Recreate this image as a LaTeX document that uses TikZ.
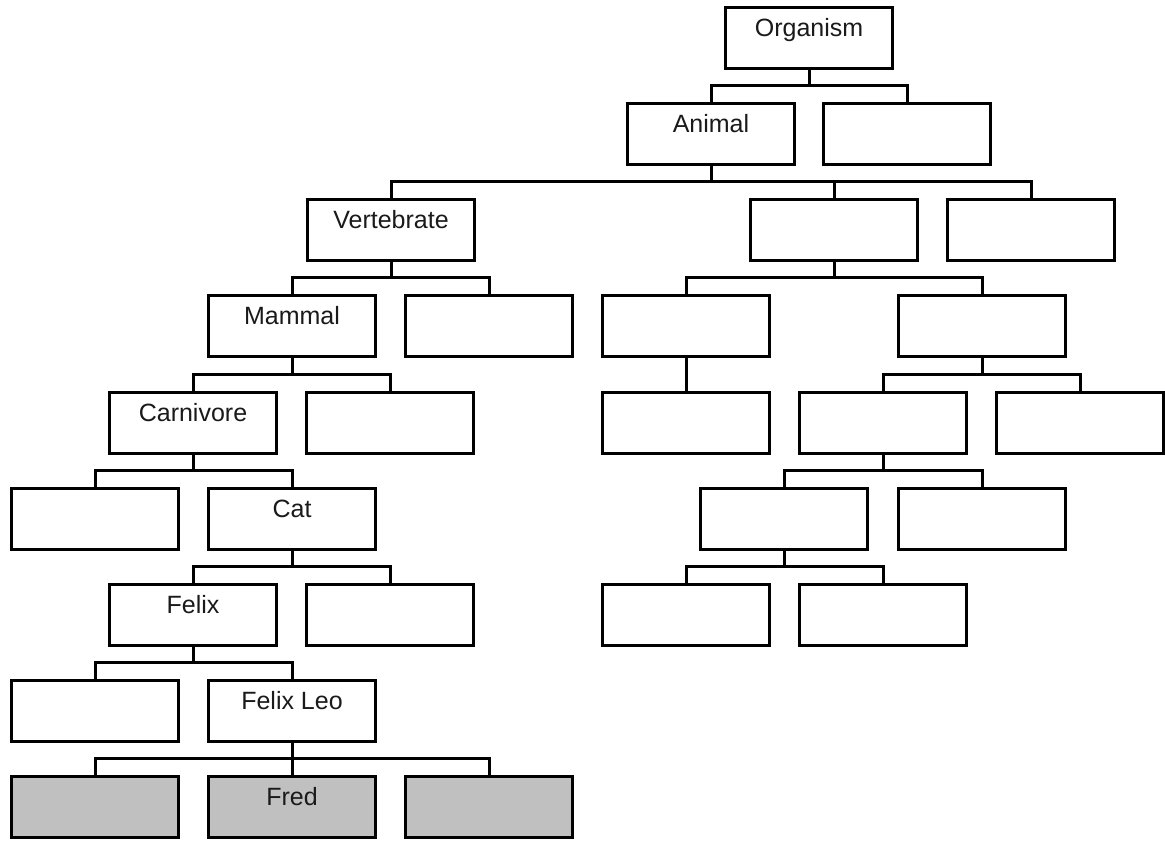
\documentclass[tikz,border=0pt]{standalone}
\usepackage{fontspec}
\setmainfont{Liberation Sans}
\usetikzlibrary{calc}
\definecolor{leafgray}{HTML}{C0C0C0}
\definecolor{inkgray}{HTML}{1A1A1A}
\begin{document}
\begin{tikzpicture}[x=1pt,y=-1pt,
  box/.style={draw=black, line width=3pt, fill=white, rectangle,
    minimum width=167pt, minimum height=61pt, inner sep=0pt,
    text height=29pt, text depth=32pt, text=inkgray,
    font=\fontsize{25}{29}\selectfont},
  leaf/.style={box, fill=leafgray},
  link/.style={draw=black, line width=3pt}]
\useasboundingbox (0,0) rectangle (1165,841);
% row 0
\node[box] (org) at (809,38) {Organism};
% row 1
\node[box] (animal) at (711,134.1) {Animal};
\node[box] (b1) at (907,134.1) {};
% row 2
\node[box] (vert) at (391,230.25) {Vertebrate};
\node[box] (b2a) at (834,230.25) {};
\node[box] (b2b) at (1031,230.25) {};
% row 3
\node[box] (mammal) at (292,326.4) {Mammal};
\node[box] (b3a) at (489,326.4) {};
\node[box] (b3b) at (686,326.4) {};
\node[box] (b3c) at (982,326.4) {};
% row 4
\node[box] (carn) at (193,422.5) {Carnivore};
\node[box] (b4a) at (390,422.5) {};
\node[box] (b4b) at (686,422.5) {};
\node[box] (b4c) at (883,422.5) {};
\node[box] (b4d) at (1080,422.5) {};
% row 5
\node[box] (b5a) at (95,518.6) {};
\node[box] (cat) at (292,518.6) {Cat};
\node[box] (b5b) at (784,518.6) {};
\node[box] (b5c) at (982,518.6) {};
% row 6
\node[box] (felix) at (193,614.75) {Felix};
\node[box] (b6a) at (390,614.75) {};
\node[box] (b6b) at (686,614.75) {};
\node[box] (b6c) at (883,614.75) {};
% row 7
\node[box] (b7a) at (95,710.9) {};
\node[box] (felixleo) at (292,710.9) {Felix Leo};
% row 8
\node[leaf] (g1) at (95,807) {};
\node[leaf] (fred) at (292,807) {Fred};
\node[leaf] (g3) at (489,807) {};
% connectors
\foreach \p/\c in {org/animal, org/b1,
    animal/vert, animal/b2a, animal/b2b,
    vert/mammal, vert/b3a, b2a/b3b, b2a/b3c,
    mammal/carn, mammal/b4a, b3b/b4b, b3c/b4c, b3c/b4d,
    carn/b5a, carn/cat, b4c/b5b, b4c/b5c,
    cat/felix, cat/b6a, b5b/b6b, b5b/b6c,
    felix/b7a, felix/felixleo,
    felixleo/g1, felixleo/fred, felixleo/g3}
  \draw[link] (\p.south) |- ($(\c.north)+(0,-16.5)$) -- (\c.north);
\end{tikzpicture}
\end{document}
